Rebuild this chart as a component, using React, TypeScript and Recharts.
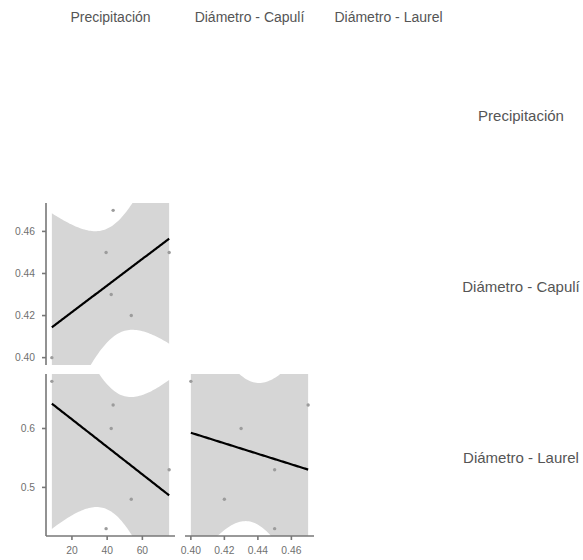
import React from 'react';
import {
  ComposedChart,
  Area,
  Line,
  Scatter,
  XAxis,
  YAxis,
} from 'recharts';

// Observations (one per site)
const precipitacion = [8.6, 39.4, 43.4, 42.3, 53.7, 75.2];
const capuli = [0.4, 0.45, 0.47, 0.43, 0.42, 0.45];
const laurel = [0.68, 0.43, 0.64, 0.6, 0.48, 0.53];

const variables = ['Precipitación', 'Diámetro - Capulí', 'Diámetro - Laurel'];

const precipTicks = [20, 40, 60];
const capuliTicks = [0.4, 0.42, 0.44, 0.46];
const laurelTicks = [0.5, 0.6];

const FONT = '"Liberation Sans", Arial, sans-serif';
const BAND = '#d6d6d6';
const AXIS = '#777';

// t quantile (0.975) for n - 2 = 4 degrees of freedom
const T_975 = 2.776;

// Linear fit with 95% confidence band, evaluated over the x range
function lmSmooth(xs: number[], ys: number[], steps = 80) {
  const n = xs.length;
  const mx = xs.reduce((a, b) => a + b, 0) / n;
  const my = ys.reduce((a, b) => a + b, 0) / n;
  let sxx = 0;
  let sxy = 0;
  xs.forEach((x, i) => {
    sxx += (x - mx) ** 2;
    sxy += (x - mx) * (ys[i] - my);
  });
  const b = sxy / sxx;
  const a = my - b * mx;
  let sse = 0;
  xs.forEach((x, i) => {
    sse += (ys[i] - (a + b * x)) ** 2;
  });
  const s = Math.sqrt(sse / (n - 2));
  const lo = Math.min(...xs);
  const hi = Math.max(...xs);
  const out = [];
  for (let k = 0; k < steps; k++) {
    const x = lo + ((hi - lo) * k) / (steps - 1);
    const fit = a + b * x;
    const se = s * Math.sqrt(1 / n + (x - mx) ** 2 / sxx);
    out.push({ x, fit, band: [fit - T_975 * se, fit + T_975 * se] });
  }
  return out;
}

function expand(vals: number[]): [number, number] {
  const lo = Math.min(...vals);
  const hi = Math.max(...vals);
  const pad = (hi - lo) * 0.05;
  return [lo - pad, hi + pad];
}

const dot = (p: any) => <circle cx={p.cx} cy={p.cy} r={1.7} fill="#9c9c9c" />;

interface PanelProps {
  xs: number[];
  ys: number[];
  left: number;
  top: number;
  showX: boolean;
  showY: boolean;
  xTicks: number[];
  yTicks: number[];
  xFmt: (v: number) => string;
  yFmt: (v: number) => string;
}

const PANEL_W = 129;
const PANEL_H = 162;
const Y_W = 46;
const X_H = 26;
const SIDE = 14; // room for edge tick labels

function Panel({ xs, ys, left, top, showX, showY, xTicks, yTicks, xFmt, yFmt }: PanelProps) {
  const smooth = lmSmooth(xs, ys);
  const pts = xs.map((x, i) => ({ x, y: ys[i] }));
  const padL = showY ? 0 : SIDE;
  const offL = showY ? Y_W : SIDE;
  const width = PANEL_W + offL + SIDE;
  const height = PANEL_H + (showX ? X_H : 0);
  const tick = { fill: '#707070', fontSize: 10.3, fontFamily: FONT };
  return (
    <div style={{ position: 'absolute', left: left - offL, top }}>
      <ComposedChart
        width={width}
        height={height}
        data={smooth}
        margin={{ top: 0, right: SIDE, bottom: 0, left: padL }}
      >
        <XAxis
          type="number"
          dataKey="x"
          domain={expand(xs)}
          allowDataOverflow
          ticks={xTicks}
          interval={0}
          tickFormatter={xFmt}
          hide={!showX}
          height={X_H}
          tick={tick}
          tickSize={4}
          tickMargin={7}
          axisLine={{ stroke: AXIS, strokeWidth: 1.6 }}
          tickLine={{ stroke: AXIS, strokeWidth: 1.6 }}
        />
        <YAxis
          type="number"
          domain={expand(ys)}
          allowDataOverflow
          ticks={yTicks}
          interval={0}
          tickFormatter={yFmt}
          hide={!showY}
          width={Y_W}
          tick={tick}
          tickSize={4}
          tickMargin={7}
          axisLine={{ stroke: AXIS, strokeWidth: 1.6 }}
          tickLine={{ stroke: AXIS, strokeWidth: 1.6 }}
        />
        <Area
          dataKey="band"
          type="linear"
          stroke="none"
          fill={BAND}
          fillOpacity={1}
          isAnimationActive={false}
        />
        <Scatter data={pts} dataKey="y" shape={dot} isAnimationActive={false} />
        <Line
          dataKey="fit"
          type="linear"
          stroke="#000"
          strokeWidth={2.2}
          dot={false}
          isAnimationActive={false}
        />
      </ComposedChart>
    </div>
  );
}

const COL_LEFT = [46, 185, 324];
const ROW_TOP = [32, 203, 374];

const label: React.CSSProperties = {
  position: 'absolute',
  fontFamily: FONT,
  color: '#555',
  whiteSpace: 'nowrap',
  transform: 'translate(-50%, -50%)',
};

export default function App() {
  const f2 = (v: number) => v.toFixed(2);
  const f1 = (v: number) => v.toFixed(1);
  const f0 = (v: number) => String(v);
  return (
    <div
      style={{
        position: 'absolute',
        left: 0,
        top: 0,
        width: 583,
        height: 560,
        background: '#fff',
        overflow: 'hidden',
      }}
    >
      {variables.map((v, i) => (
        <div
          key={'c' + v}
          style={{ ...label, fontSize: 14, left: COL_LEFT[i] + PANEL_W / 2, top: 17 }}
        >
          {v}
        </div>
      ))}
      {variables.map((v, i) => (
        <div
          key={'r' + v}
          style={{ ...label, fontSize: 15, left: 521, top: ROW_TOP[i] + PANEL_H / 2 + 2 }}
        >
          {v}
        </div>
      ))}
      <Panel
        xs={precipitacion}
        ys={capuli}
        left={COL_LEFT[0]}
        top={ROW_TOP[1]}
        showX={false}
        showY
        xTicks={precipTicks}
        yTicks={capuliTicks}
        xFmt={f0}
        yFmt={f2}
      />
      <Panel
        xs={precipitacion}
        ys={laurel}
        left={COL_LEFT[0]}
        top={ROW_TOP[2]}
        showX
        showY
        xTicks={precipTicks}
        yTicks={laurelTicks}
        xFmt={f0}
        yFmt={f1}
      />
      <Panel
        xs={capuli}
        ys={laurel}
        left={COL_LEFT[1]}
        top={ROW_TOP[2]}
        showX
        showY={false}
        xTicks={capuliTicks}
        yTicks={laurelTicks}
        xFmt={f2}
        yFmt={f1}
      />
    </div>
  );
}
